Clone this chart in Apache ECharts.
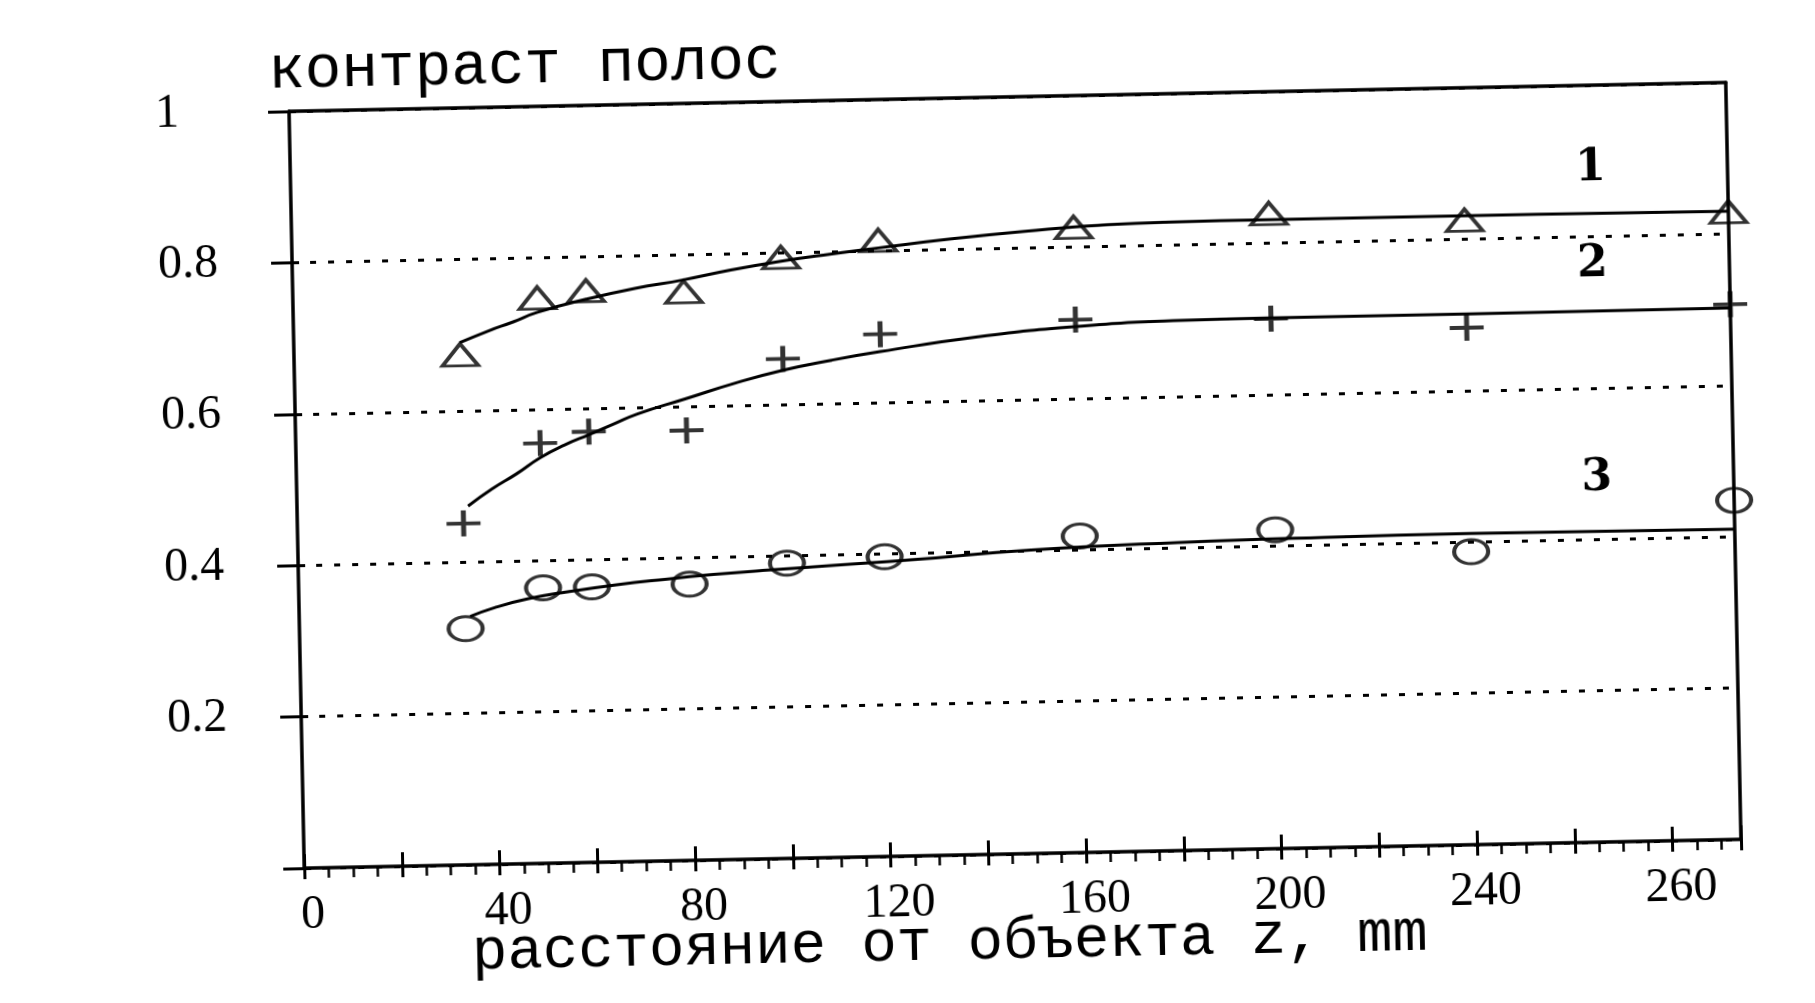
<!DOCTYPE html>
<html><head><meta charset="utf-8">
<script src="https://cdn.jsdelivr.net/npm/echarts@6/dist/echarts.min.js"></script>
<style>
html,body{margin:0;padding:0;background:#fff;overflow:hidden;width:1815px;height:1003px}
#wrap{position:absolute;left:0;top:0;width:1815px;height:1003px;transform-origin:907.5px 501.5px;transform:rotate(-1.15deg)}
#chart{width:1815px;height:1003px}
</style></head><body>
<div id="wrap"><div id="chart"></div></div>
<script>
// measured points (z in mm, contrast)
const zPoints = [34, 50, 60, 80, 100, 120, 160, 200, 240, 294];
const contrast1 = [0.674, 0.747, 0.755, 0.751, 0.794, 0.814, 0.826, 0.839, 0.825, 0.829];
const contrast2 = [0.451, 0.555, 0.569, 0.568, 0.660, 0.690, 0.704, 0.700, 0.683, 0.707];
const contrast3 = [0.312, 0.364, 0.364, 0.365, 0.390, 0.396, 0.418, 0.421, 0.387, 0.448];

// fitted curves
const curve1Z = [34, 40, 45, 50, 60, 70, 80, 90, 100, 110, 120, 135, 150, 165, 190, 220, 255, 294];
const curve1C = [0.690, 0.705, 0.716, 0.728, 0.744, 0.757, 0.767, 0.779, 0.789, 0.797, 0.804, 0.814, 0.822, 0.828, 0.831, 0.831, 0.831, 0.830];
const curve2Z = [35, 40, 45, 50, 55, 60, 65, 70, 80, 90, 100, 110, 120, 140, 160, 180, 200, 240, 294];
const curve2C = [0.474, 0.496, 0.515, 0.536, 0.552, 0.565, 0.578, 0.591, 0.610, 0.629, 0.645, 0.657, 0.667, 0.684, 0.695, 0.700, 0.701, 0.701, 0.702];
const curve3Z = [35, 40, 47, 55, 65, 75, 85, 95, 110, 125, 150, 180, 210, 240, 294];
const curve3C = [0.328, 0.339, 0.350, 0.358, 0.366, 0.372, 0.377, 0.381, 0.386, 0.391, 0.401, 0.407, 0.410, 0.411, 0.410];

// tick labels (as printed in the original)
const xTicks = [0, 40, 80, 120, 160, 200, 240, 280];
const xTickLabels = ['0', '40', '80', '120', '160', '200', '240', '260'];
const yTicks = [0.2, 0.4, 0.6, 0.8, 1];
const yTickLabels = ['0.2', '0.4', '0.6', '0.8', '1'];

const curveNames = ['1', '2', '3'];
const curveLabelAt = [[266, 0.889], [266, 0.763], [266, 0.480]];

const pair = (xs, ys) => xs.map((x, i) => [x, ys[i]]);
const findLabel = (ticks, labels, v) => {
  const i = ticks.findIndex(t => Math.abs(t - v) < 1e-6);
  return i >= 0 ? labels[i] : '';
};

const chart = echarts.init(document.getElementById('chart'));
const black = '#000';
const serif = 'Liberation Serif';
const mono = 'Liberation Mono';
const ellipse = 'path://M0,10a10,10 0 1,0 20,0a10,10 0 1,0 -20,0z';
const plus = 'path://M12.8,0h4.4v12.8h12.8v4.4h-12.8v12.8h-4.4v-12.8h-12.8v-4.4h12.8z';

const axisBase = {type: 'value', min: 0, max: 294, interval: 20};
const yBase = {type: 'value', min: 0, max: 1, interval: 0.2};

function curveLine(name, xs, ys) {
  return {
    name: 'curve' + name, type: 'line', smooth: 0.5, showSymbol: false, symbol: 'none',
    data: pair(xs, ys), lineStyle: {color: black, width: 3}, z: 3, silent: true
  };
}
function points(name, ys, symbol, size, filled, idx) {
  return {
    name: 'points' + name, type: 'scatter', data: pair(zPoints, ys), symbol: symbol, symbolSize: size,
    symbolKeepAspect: false,
    itemStyle: filled ? {color: black, borderWidth: 0} : {color: 'rgba(255,255,255,0)', borderColor: black, borderWidth: 3.5},
    z: 4, silent: true,
    markPoint: {
      symbol: 'circle', symbolSize: 1, itemStyle: {color: 'rgba(0,0,0,0)'},
      label: {show: true, position: 'inside', formatter: curveNames[idx], color: black,
              fontFamily: 'DejaVu Serif', fontWeight: 'bold', fontSize: 44},
      data: [{coord: curveLabelAt[idx]}]
    }
  };
}

chart.setOption({
  animation: false,
  backgroundColor: '#fff',
  title: [
    {text: 'контраст полос', left: 277, top: 28, padding: 0,
     textStyle: {fontFamily: mono, fontSize: 61, fontWeight: 'normal', color: black}},
    {text: 'расстояние от объекта z, mm', left: 463, top: 915, padding: 0,
     textStyle: {fontFamily: mono, fontSize: 59, fontWeight: 'normal', color: black}}
  ],
  grid: {left: 297, top: 99, width: 1437, height: 757, containLabel: false, outerBoundsMode: 'none'},
  xAxis: [
    Object.assign({}, axisBase, {
      position: 'bottom',
      axisLine: {show: true, onZero: true, lineStyle: {color: black, width: 3.5}},
      axisTick: {show: true, inside: false, length: 11, lineStyle: {color: black, width: 3}},
      minorTick: {show: true, splitNumber: 4, length: 10, lineStyle: {color: black, width: 2.5}},
      axisLabel: {show: true, margin: 23, padding: [0, 0, 0, 16], color: black, fontFamily: serif, fontSize: 48,
                  formatter: v => findLabel(xTicks, xTickLabels, v)},
      splitLine: {show: false}
    }),
    Object.assign({}, axisBase, {
      position: 'bottom',
      axisLine: {show: false},
      axisTick: {show: true, inside: true, length: 14, lineStyle: {color: black, width: 3}},
      axisLabel: {show: false}, splitLine: {show: false}
    }),
    Object.assign({}, axisBase, {
      position: 'top',
      axisLine: {show: true, onZero: false, lineStyle: {color: black, width: 3.5}},
      axisTick: {show: false}, axisLabel: {show: false}, splitLine: {show: false}
    })
  ],
  yAxis: [
    Object.assign({}, yBase, {
      position: 'left',
      axisLine: {show: true, onZero: true, lineStyle: {color: black, width: 3.5}},
      axisTick: {show: true, inside: false, length: 21, lineStyle: {color: black, width: 3}},
      axisLabel: {show: true, margin: 134, align: 'left', color: black, fontFamily: serif, fontSize: 48,
                  formatter: v => findLabel(yTicks, yTickLabels, v)},
      splitLine: {show: true, lineStyle: {color: black, width: 3, type: [6, 12]}}
    }),
    Object.assign({}, yBase, {
      position: 'left',
      axisLine: {show: false},
      axisTick: {show: true, inside: true, length: 7, lineStyle: {color: black, width: 3}},
      axisLabel: {show: false}, splitLine: {show: false}
    }),
    Object.assign({}, yBase, {
      position: 'right',
      axisLine: {show: true, onZero: false, lineStyle: {color: black, width: 3.5}},
      axisTick: {show: false}, axisLabel: {show: false}, splitLine: {show: false}
    })
  ],
  series: [
    curveLine('1', curve1Z, curve1C),
    curveLine('2', curve2Z, curve2C),
    curveLine('3', curve3Z, curve3C),
    points('1', contrast1, 'triangle', [36, 22], false, 0),
    points('2', contrast2, plus, [34, 26], true, 1),
    points('3', contrast3, ellipse, [34, 24], false, 2)
  ]
});
</script>
</body></html>
